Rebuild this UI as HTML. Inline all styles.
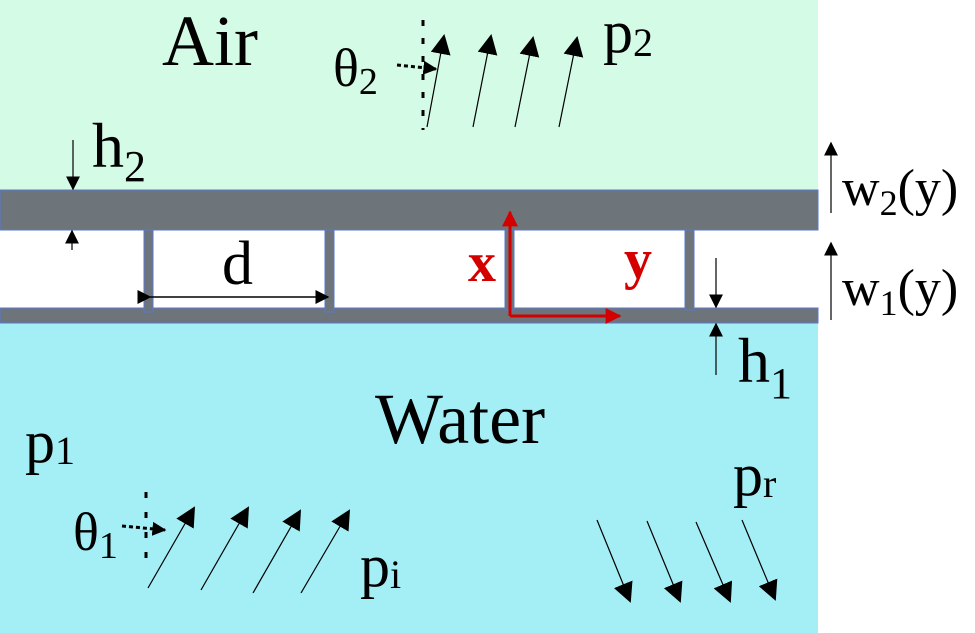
<!DOCTYPE html>
<html><head><meta charset="utf-8"><style>
html,body{margin:0;padding:0;background:#fff;}
svg{display:block;}
text{font-family:"Liberation Serif",serif;fill:#000;}
</style></head><body>
<svg width="975" height="633" viewBox="0 0 975 633" xmlns="http://www.w3.org/2000/svg">
<defs>
<marker id="big" viewBox="0 0 10 10" refX="9" refY="5" markerWidth="20" markerHeight="20" markerUnits="userSpaceOnUse" orient="auto"><path d="M0,0L10,5L0,10z" fill="#000"/></marker>
<marker id="med" viewBox="0 0 10 10" refX="9" refY="5" markerWidth="14" markerHeight="14" markerUnits="userSpaceOnUse" orient="auto"><path d="M0,0L10,5L0,10z" fill="#000"/></marker>
<marker id="red" viewBox="0 0 10 10" refX="9" refY="5" markerWidth="16" markerHeight="16" markerUnits="userSpaceOnUse" orient="auto"><path d="M0,0L10,5L0,10z" fill="#d40000"/></marker>
</defs>
<rect x="0" y="0" width="818" height="190" fill="#d4fbe6"/>
<rect x="0" y="323" width="818" height="310" fill="#a4eef5"/>
<rect x="0" y="230" width="818" height="78" fill="#fff"/>
<rect x="0" y="190" width="818" height="40" fill="#6e757a" stroke="#5a78d0" stroke-width="1"/>
<rect x="0" y="308" width="818" height="15" fill="#6e757a" stroke="#5a78d0" stroke-width="1"/>
<rect x="144" y="230" width="9" height="82" fill="#6e757a" stroke="#5a78d0" stroke-width="1"/>
<rect x="325" y="230" width="9" height="82" fill="#6e757a" stroke="#5a78d0" stroke-width="1"/>
<rect x="505" y="230" width="9" height="80" fill="#6e757a" stroke="#5a78d0" stroke-width="1"/>
<rect x="685" y="230" width="9" height="80" fill="#6e757a" stroke="#5a78d0" stroke-width="1"/>
<line x1="510" y1="316" x2="510" y2="212" stroke="#d40000" stroke-width="3" marker-end="url(#red)"/>
<line x1="510" y1="316" x2="620" y2="316" stroke="#d40000" stroke-width="3" marker-end="url(#red)"/>
<text x="468" y="281" font-size="56" font-weight="bold" style="fill:#d40000">x</text>
<text x="624" y="278" font-size="56" font-weight="bold" style="fill:#d40000">y</text>
<line x1="150" y1="297" x2="328" y2="297" stroke="#000" stroke-width="1.5" marker-end="url(#med)" marker-start="url(#med)" />
<text x="222" y="284" font-size="62">d</text>
<line x1="73" y1="140" x2="73" y2="189" stroke="#000" stroke-width="1.2" marker-end="url(#med)"/>
<line x1="72" y1="250" x2="72" y2="231" stroke="#000" stroke-width="1.2" marker-end="url(#med)"/>
<text x="92" y="167" font-size="64">h<tspan font-size="44" dy="14">2</tspan></text>
<line x1="716" y1="258" x2="716" y2="307" stroke="#000" stroke-width="1.2" marker-end="url(#med)"/>
<line x1="716" y1="375" x2="716" y2="324" stroke="#000" stroke-width="1.2" marker-end="url(#med)"/>
<text x="738" y="382" font-size="64">h<tspan font-size="44" dy="16">1</tspan></text>
<line x1="831" y1="213" x2="831" y2="143" stroke="#000" stroke-width="1.2" marker-end="url(#med)"/>
<line x1="831" y1="320" x2="831" y2="243" stroke="#000" stroke-width="1.2" marker-end="url(#med)"/>
<text x="842" y="205" font-size="52">w<tspan font-size="36" dy="10">2</tspan><tspan dy="-10">(y)</tspan></text>
<text x="842" y="305" font-size="52">w<tspan font-size="36" dy="10">1</tspan><tspan dy="-10">(y)</tspan></text>
<text x="162" y="65" font-size="72">Air</text>
<text x="375" y="443" font-size="72">Water</text>
<text x="333" y="86" font-size="54">θ<tspan font-size="38" dy="8">2</tspan></text>
<text x="603" y="52" font-size="60">p<tspan font-size="40" dy="4">2</tspan></text>
<text x="25" y="462" font-size="60">p<tspan font-size="40" dy="2">1</tspan></text>
<text x="73" y="550" font-size="54">θ<tspan font-size="38" dy="8">1</tspan></text>
<text x="360" y="586" font-size="60">p<tspan font-size="40" dy="2">i</tspan></text>
<text x="733" y="495" font-size="60">p<tspan font-size="40" dy="2">r</tspan></text>
<line x1="423" y1="20" x2="423" y2="130" stroke="#000" stroke-width="3" stroke-dasharray="6,12"/>
<line x1="397" y1="65" x2="436" y2="69" stroke="#000" stroke-width="3" stroke-dasharray="4,3" marker-end="url(#med)"/>
<g stroke="#000" stroke-width="1.2" marker-end="url(#big)">
<line x1="427" y1="127" x2="444" y2="36"/>
<line x1="473" y1="127" x2="491" y2="36"/>
<line x1="515" y1="127" x2="533" y2="38"/>
<line x1="559" y1="127" x2="577" y2="38"/>
</g>
<line x1="146" y1="492" x2="146" y2="566" stroke="#000" stroke-width="3" stroke-dasharray="6,14"/>
<line x1="122" y1="526" x2="165" y2="530" stroke="#000" stroke-width="3" stroke-dasharray="4,3" marker-end="url(#med)"/>
<g stroke="#000" stroke-width="1.2" marker-end="url(#big)">
<line x1="148" y1="588" x2="194" y2="508"/>
<line x1="201" y1="590" x2="248" y2="508"/>
<line x1="253" y1="593" x2="300" y2="511"/>
<line x1="301" y1="593" x2="349" y2="511"/>
</g>
<g stroke="#000" stroke-width="1.2" marker-end="url(#big)">
<line x1="597" y1="520" x2="630" y2="601"/>
<line x1="647" y1="521" x2="680" y2="601"/>
<line x1="696" y1="522" x2="730" y2="601"/>
<line x1="742" y1="520" x2="775" y2="599"/>
</g>
</svg>
</body></html>
